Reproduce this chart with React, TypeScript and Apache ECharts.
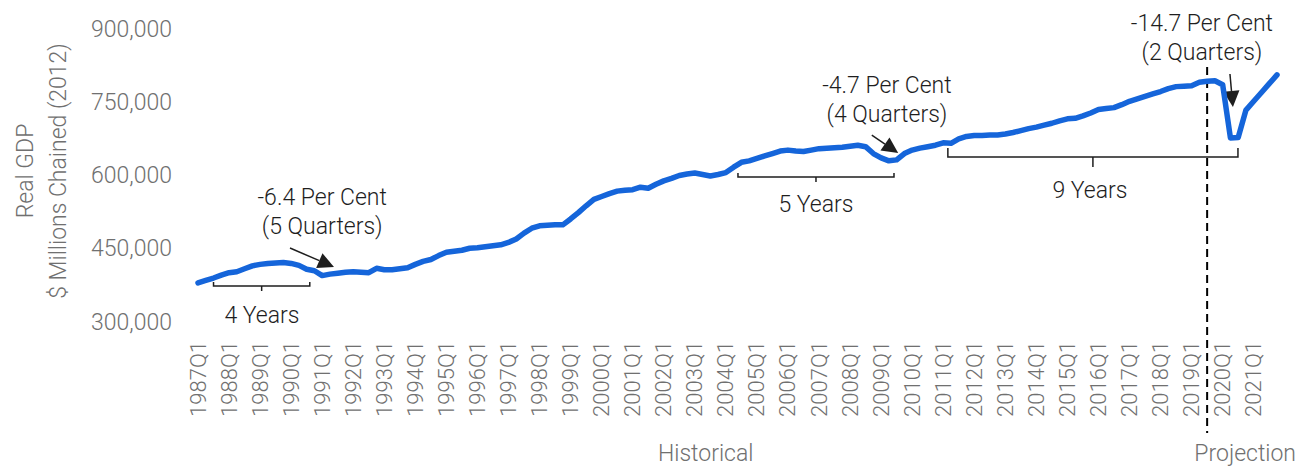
import { useEffect, useRef } from "react";
import * as echarts from "echarts";

// Quarterly categories 1987Q1 .. 2021Q4
const quarters: string[] = [];
for (let y = 1987; y <= 2021; y++) {
  for (let q = 1; q <= 4; q++) quarters.push(`${y}Q${q}`);
}

// Real GDP, $ millions chained (2012)
const realGdp: number[] = [
  380000, 385000, 390000, 396000, // 1987
  401000, 403000, 409000, 415000, // 1988
  418000, 420000, 421000, 422000, // 1989
  420000, 416000, 408000, 405000, // 1990
  395000, 398000, 400000, 402000, // 1991
  403000, 402000, 401000, 410000, // 1992
  407000, 407000, 409000, 411000, // 1993
  418000, 424000, 428000, 436000, // 1994
  443000, 445000, 447000, 451000, // 1995
  452000, 454000, 456000, 458000, // 1996
  463000, 470000, 482000, 492000, // 1997
  497000, 498000, 499000, 499000, // 1998
  511000, 524000, 538000, 551000, // 1999
  557000, 563000, 568000, 570000, // 2000
  571000, 576000, 574000, 582000, // 2001
  589000, 594000, 600000, 603000, // 2002
  605000, 602000, 599000, 602000, // 2003
  606000, 617000, 627000, 630000, // 2004
  635000, 640000, 645000, 650000, // 2005
  652000, 650000, 649000, 652000, // 2006
  655000, 656000, 657000, 658000, // 2007
  660000, 662000, 659000, 645000, // 2008
  636000, 630000, 632000, 645000, // 2009
  652000, 656000, 659000, 662000, // 2010
  667000, 666000, 675000, 680000, // 2011
  682000, 682000, 683000, 683000, // 2012
  685000, 688000, 692000, 696000, // 2013
  699000, 703000, 707000, 712000, // 2014
  716000, 717000, 722000, 728000, // 2015
  735000, 737000, 739000, 745000, // 2016
  752000, 757000, 762000, 767000, // 2017
  772000, 778000, 782000, 783000, // 2018
  784000, 791000, 793000, 794000, // 2019
  786000, 677000, 678000, 734000, // 2020
  752000, 770000, 788000, 806000, // 2021
];

const yMin = 300000;
const yMax = 900000;
const yStep = 150000;

const titleLines = ["Real GDP", "$ Millions Chained (2012)"];
const periodLabels = ["Historical", "Projection"];
const dipLabels = [
  ["-6.4 Per Cent", "(5 Quarters)"],
  ["-4.7 Per Cent", "(4 Quarters)"],
  ["-14.7 Per Cent", "(2 Quarters)"],
];
const recoveryLabels = ["4 Years", "5 Years", "9 Years"];
const projectionStart = "2019Q3";

// Annotation layout, in (category index, value) space
const dipLayout = [
  { text: [16.0, 526000], from: [11.85, 451500], to: [17.52, 412600] },
  { text: [88.75, 753600], from: [86.8, 682900], to: [90.2, 646000] },
  { text: [129.33, 881600], from: [132.94, 807800], to: [133.32, 740300] },
];
const bracketLayout = [
  { from: 2.0, to: 14.4, value: 373700, rise: 4, drop: 5, label: [8.24, 312300] },
  { from: 69.56, to: 89.66, value: 596900, rise: 4, drop: 5, label: [79.6, 539600] },
  { from: 96.6, to: 133.97, value: 637900, rise: 9, drop: 10, label: [114.9, 570300] },
];

const FONT = "Roboto, 'Liberation Sans', Arial, sans-serif";
const GREY = "#707070";
const INK = "#1e1e1e";

export default function App() {
  const ref = useRef<HTMLDivElement>(null);

  useEffect(() => {
    document.body.style.margin = "0";
    if (!ref.current) return;
    const chart = echarts.init(ref.current, undefined, { renderer: "svg" });

    chart.setOption({
      animation: false,
      grid: { left: 198, right: 24, top: 29, bottom: 145 },
      xAxis: {
        type: "category",
        data: quarters,
        boundaryGap: false,
        axisLine: { show: false },
        axisTick: { show: false },
        splitLine: { show: false },
        axisLabel: {
          interval: 3,
          rotate: 90,
          margin: 19,
          color: GREY,
          fontSize: 22,
          fontWeight: 300,
          fontFamily: FONT,
        },
      },
      yAxis: {
        type: "value",
        min: yMin,
        max: yMax,
        interval: yStep,
        axisLine: { show: false },
        axisTick: { show: false },
        splitLine: { show: false },
        axisLabel: {
          margin: 26,
          color: GREY,
          fontSize: 23,
          fontWeight: 300,
          fontFamily: FONT,
          formatter: (v: number) => v.toLocaleString("en-US"),
        },
      },
      series: [
        {
          type: "line",
          data: realGdp,
          symbol: "none",
          lineStyle: { color: "#1565DA", width: 5.5, cap: "round", join: "round" },
        },
      ],
    });

    // linear mapping from (category index, value) to pixels
    const first = chart.convertToPixel({ xAxisIndex: 0 }, quarters[0]) as number;
    const last = chart.convertToPixel({ xAxisIndex: 0 }, quarters[quarters.length - 1]) as number;
    const yLo = chart.convertToPixel({ yAxisIndex: 0 }, yMin) as number;
    const yHi = chart.convertToPixel({ yAxisIndex: 0 }, yMax) as number;
    const px = (i: number) => first + ((last - first) * i) / (quarters.length - 1);
    const py = (v: number) => yLo + ((yHi - yLo) * (v - yMin)) / (yMax - yMin);

    const textStyle = (fill: string, size: number) => ({
      fill,
      fontSize: size,
      fontWeight: 300,
      fontFamily: FONT,
      align: "center",
      verticalAlign: "middle",
      lineHeight: 29,
    });

    const graphics: any[] = [];

    // y-axis title, two rotated lines
    titleLines.forEach((t, k) => {
      graphics.push({
        type: "text",
        x: 25 + k * 33,
        y: 171,
        rotation: Math.PI / 2,
        style: { text: t, ...textStyle(GREY, 23) },
      });
    });

    // dip annotations with arrows
    dipLayout.forEach((d, k) => {
      graphics.push({
        type: "text",
        x: px(d.text[0]),
        y: py(d.text[1]),
        style: { text: dipLabels[k].join("\n"), ...textStyle(INK, 23) },
      });
      const x1 = px(d.from[0]);
      const y1 = py(d.from[1]);
      const x2 = px(d.to[0]);
      const y2 = py(d.to[1]);
      const len = Math.hypot(x2 - x1, y2 - y1);
      const ux = (x2 - x1) / len;
      const uy = (y2 - y1) / len;
      const head = 16;
      const half = 8;
      const bx = x2 - ux * head;
      const by = y2 - uy * head;
      graphics.push({
        type: "line",
        shape: { x1, y1, x2: bx, y2: by },
        style: { stroke: INK, lineWidth: 1.5 },
      });
      graphics.push({
        type: "polygon",
        shape: {
          points: [
            [x2, y2],
            [bx - uy * half, by + ux * half],
            [bx + uy * half, by - ux * half],
          ],
        },
        style: { fill: INK },
      });
    });

    // recovery brackets
    bracketLayout.forEach((b, k) => {
      const xa = px(b.from);
      const xb = px(b.to);
      const yb = py(b.value);
      const xm = (xa + xb) / 2;
      graphics.push({
        type: "polyline",
        shape: {
          points: [
            [xa, yb - b.rise],
            [xa, yb],
            [xb, yb],
            [xb, yb - b.rise],
          ],
        },
        style: { stroke: INK, lineWidth: 1.5, fill: null },
      });
      graphics.push({
        type: "line",
        shape: { x1: xm, y1: yb, x2: xm, y2: yb + b.drop },
        style: { stroke: INK, lineWidth: 1.5 },
      });
      graphics.push({
        type: "text",
        x: px(b.label[0]),
        y: py(b.label[1]),
        style: { text: recoveryLabels[k], ...textStyle(INK, 23) },
      });
    });

    // boundary between historical and projected quarters
    const xs = px(quarters.indexOf(projectionStart));
    graphics.push({
      type: "line",
      shape: { x1: xs, y1: 67, x2: xs, y2: 433 },
      style: { stroke: "#000", lineWidth: 2, lineDash: [8, 5] },
    });

    graphics.push({
      type: "text",
      x: px(65.4),
      y: 453,
      style: { text: periodLabels[0], ...textStyle(GREY, 23), lineHeight: 24 },
    });
    graphics.push({
      type: "text",
      x: 1296,
      y: 453,
      style: { text: periodLabels[1], ...textStyle(GREY, 23), lineHeight: 24, align: "right" },
    });

    chart.setOption({ graphic: graphics });

    return () => chart.dispose();
  }, []);

  return <div ref={ref} style={{ width: 1301, height: 467 }} />;
}
